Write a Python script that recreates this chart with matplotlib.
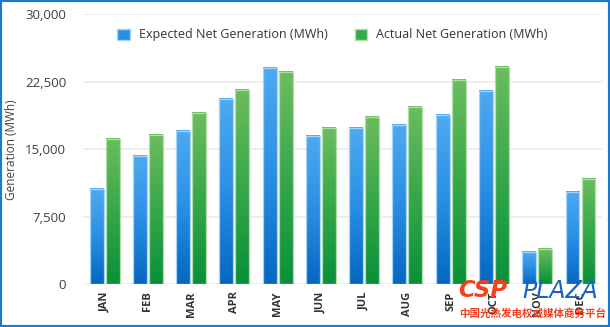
import numpy as np
import matplotlib
matplotlib.use('Agg')
import matplotlib.pyplot as plt
from matplotlib.colors import LinearSegmentedColormap
from matplotlib.patches import Rectangle, Patch

# Monthly net generation (MWh)
months = ['JAN', 'FEB', 'MAR', 'APR', 'MAY', 'JUN', 'JUL', 'AUG', 'SEP', 'OCT', 'NOV', 'DEC']
expected = [10600, 14300, 17050, 20600, 24000, 16450, 17350, 17700, 18800, 21450, 3600, 10250]
actual = [16100, 16550, 19050, 21550, 23600, 17350, 18550, 19700, 22650, 24100, 3900, 11650]
y_ticks = [0, 7500, 15000, 22500, 30000]

plt.rcParams['font.family'] = ['Open Sans', 'DejaVu Sans']

fig = plt.figure(figsize=(6.1, 3.27), dpi=100)
ax = fig.add_axes([0.136, 0.13, 0.851, 0.827])

blue_map = LinearSegmentedColormap.from_list('blue_grad', ['#0567c0', '#2a8fe4', '#4eaaf0'])
green_map = LinearSegmentedColormap.from_list('green_grad', ['#08903a', '#37a84a', '#6cbd5e'])
grad = np.linspace(0, 1, 256).reshape(-1, 1)

x = np.arange(len(months))
w = 0.32


def gradient_bars(pos, values, cmap, edge):
    bars = ax.bar(pos, values, w, color='none', edgecolor=edge, linewidth=0.9, zorder=3)
    for b in bars:
        x0, h = b.get_x(), b.get_height()
        ax.imshow(grad, cmap=cmap, origin='lower', aspect='auto',
                  extent=(x0, x0 + b.get_width(), 0, h), zorder=2)
    return bars


gradient_bars(x - 0.185, expected, blue_map, '#a8d4f8')
gradient_bars(x + 0.185, actual, green_map, '#b0e0a8')

ax.set_xlim(-0.5, 11.5)
ax.set_ylim(0, 30000)
ax.set_yticks(y_ticks)
ax.set_yticklabels([f'{v:,}' for v in y_ticks], fontsize=9.5, color='#404040')
ax.set_xticks(x)
ax.set_xticklabels(months, rotation=90, fontsize=8, fontweight='bold', color='#333333')
ax.tick_params(axis='both', length=0)
ax.tick_params(axis='y', pad=12)
ax.tick_params(axis='x', pad=5)
ax.yaxis.grid(True, color='#ebebeb', linewidth=1.2)
ax.set_axisbelow(True)
for s in ax.spines.values():
    s.set_visible(False)

ax.set_ylabel('Generation (MWh)', fontsize=8.5, color='#404040', labelpad=8)
ax.yaxis.set_label_coords(-0.125, 0.5)

handles = [Patch(facecolor='#2a8fe4', edgecolor='#a8d4f8', label='Expected Net Generation (MWh)'),
           Patch(facecolor='#37a84a', edgecolor='#b0e0a8', label='Actual Net Generation (MWh)')]
fig.legend(handles=handles, loc='center', bbox_to_anchor=(0.545, 0.893), ncol=2,
           frameon=False, fontsize=9, handlelength=1.0, handleheight=1.0,
           columnspacing=2.2, handletextpad=0.7, labelcolor='#333333')

# watermark
fig.text(0.751, 0.092, 'CSP', fontsize=16.5, fontweight='heavy', fontstyle='italic',
         color='#f5401e', family='DejaVu Sans')
fig.text(0.856, 0.088, 'PLAZA', fontsize=17, fontweight='light', fontstyle='italic',
         color='#1565c0', family='DejaVu Sans')
fig.text(0.752, 0.03, '中国光热发电权威媒体商务平台', fontsize=7.6, fontweight='bold',
         color='#f04020', family=['Noto Sans CJK SC', 'DejaVu Sans'])

fig.patches.append(Rectangle((0, 0), 1, 1, transform=fig.transFigure, fill=False,
                             edgecolor='#1a7ad2', linewidth=3))

fig.savefig('out.png', dpi=100)
